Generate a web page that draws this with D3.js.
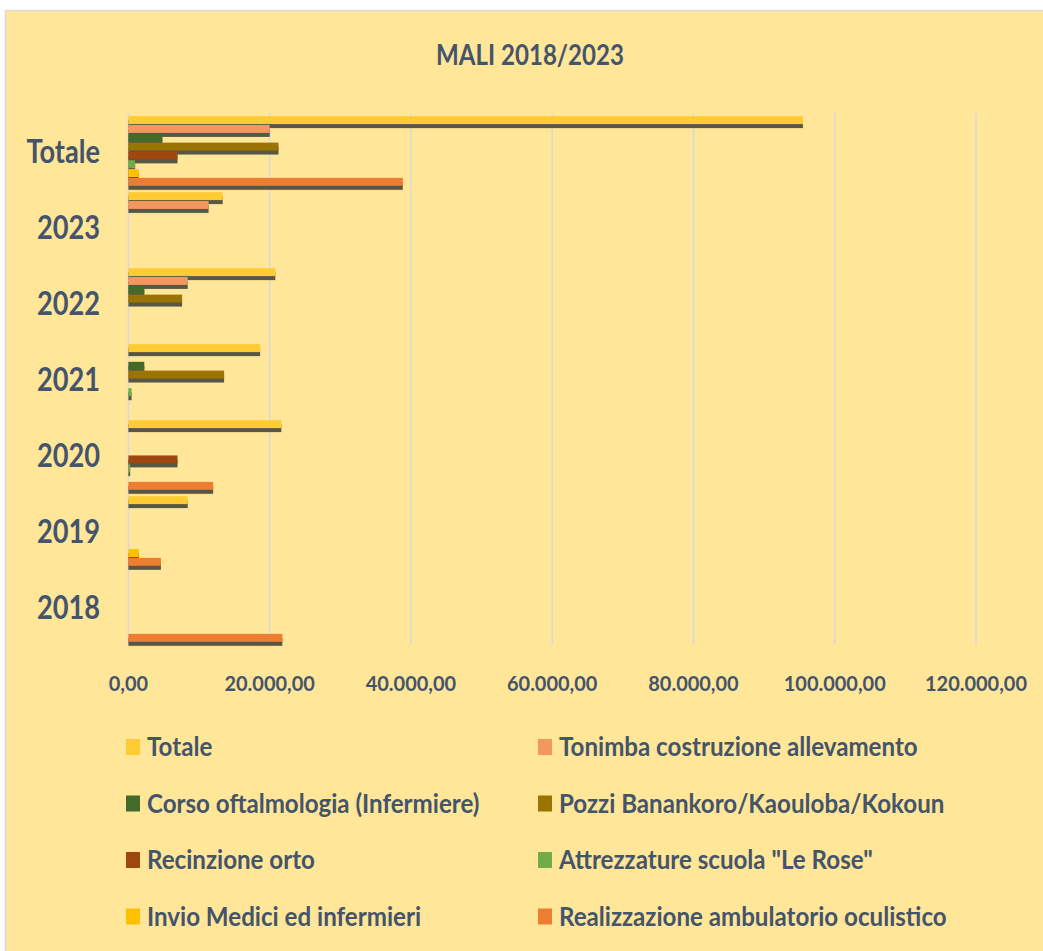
<!DOCTYPE html>
<html>
<head>
<meta charset="utf-8">
<script src="https://cdn.jsdelivr.net/npm/d3@7"></script>
<style>
  body { margin: 0; background: #fff; }
  text { font-family: Lato, "Open Sans", sans-serif; font-weight: bold; fill: #44546A; }
</style>
</head>
<body>
<div id="chart"></div>
<script>
// categories top to bottom
const categories = ['Totale', '2023', '2022', '2021', '2020', '2019', '2018'];

const seriesNames = [
    'Totale',
    'Tonimba costruzione allevamento',
    'Corso oftalmologia (Infermiere)',
    'Pozzi Banankoro/Kaouloba/Kokoun',
    'Recinzione orto',
    'Attrezzature scuola "Le Rose"',
    'Invio Medici ed infermieri',
    'Realizzazione ambulatorio oculistico'
];

// values per series, in the order of categories (null = no bar)
const totale        = [95500, 13350, 20800, 18650, 21650, 8400, null];
const tonimba       = [20000, 11350, 8400, null, null, null, null];
const corso         = [4800, null, 2250, 2250, null, null, null];
const pozzi         = [21250, null, 7600, 13550, null, null, null];
const recinzione    = [6950, null, null, null, 6950, null, null];
const attrezzature  = [950, null, null, 450, 250, null, null];
const invio         = [1450, null, null, null, null, 1450, null];
const realizzazione = [38850, null, null, null, 12000, 4600, 21800];

const seriesValues = [totale, tonimba, corso, pozzi, recinzione, attrezzature, invio, realizzazione];
const seriesColors = ['#FFCB33', '#F2985F', '#43692B', '#997400', '#9E470F', '#70AD47', '#FFC000', '#ED7D31'];

const xTicks = [0, 20000, 40000, 60000, 80000, 100000, 120000];

const W = 1043, H = 951;
const plot = { left: 128.4, right: 976, top: 113, bottom: 645 };

const it = d3.formatLocale({ decimal: ',', thousands: '.', grouping: [3], currency: ['€', ''] });
const fmt = it.format(',.2f');

const svg = d3.select('#chart').append('svg')
    .attr('width', W)
    .attr('height', H);

// chart background
svg.append('rect')
    .attr('x', 5.5).attr('y', 10.5)
    .attr('width', W).attr('height', H)
    .attr('fill', '#FFE699')
    .attr('stroke', '#D9D9D9')
    .attr('stroke-width', 1.5);

// scales
const x = d3.scaleLinear().domain([0, 120000]).range([plot.left, plot.right]);
const y0 = d3.scaleBand().domain(categories).range([plot.top, plot.bottom]);
const y1 = d3.scaleBand().domain(seriesNames).range([0, y0.bandwidth()])
    .paddingInner(0.1).paddingOuter(0.36);

// gridlines
svg.append('g').selectAll('line')
    .data(xTicks)
    .join('line')
    .attr('x1', d => x(d)).attr('x2', d => x(d))
    .attr('y1', plot.top).attr('y2', plot.bottom)
    .attr('stroke', '#D9D9D9')
    .attr('stroke-width', 1.5);

// bars, drawn series by series, each with its shadow
const bars = svg.append('g');
seriesNames.forEach((name, i) => {
    const data = categories.map((c, j) => ({ cat: c, value: seriesValues[i][j] }))
        .filter(d => d.value != null);
    const g = bars.append('g');
    g.selectAll('.shadow')
        .data(data)
        .join('rect')
        .attr('class', 'shadow')
        .attr('x', x(0))
        .attr('y', d => y0(d.cat) + y1(name) + 4)
        .attr('width', d => x(d.value) - x(0))
        .attr('height', y1.bandwidth())
        .attr('fill', '#4A4A3E')
        .attr('opacity', 0.92);
    g.selectAll('.bar')
        .data(data)
        .join('rect')
        .attr('class', 'bar')
        .attr('x', x(0))
        .attr('y', d => y0(d.cat) + y1(name))
        .attr('width', d => x(d.value) - x(0))
        .attr('height', y1.bandwidth())
        .attr('fill', seriesColors[i]);
});

// condense text horizontally (source chart is squeezed)
function condense(sel, k) {
    sel.each(function () {
        const w = this.getComputedTextLength();
        d3.select(this).attr('textLength', w * k).attr('lengthAdjust', 'spacingAndGlyphs');
    });
}

// title
svg.append('text')
    .attr('x', 530).attr('y', 65)
    .attr('text-anchor', 'middle')
    .style('font-size', '29px')
    .text('MALI 2018/2023')
    .call(condense, 0.83);

// category labels
svg.append('g').selectAll('text')
    .data(categories)
    .join('text')
    .attr('x', 100)
    .attr('y', d => y0(d) + y0.bandwidth() / 2 + 12)
    .attr('text-anchor', 'end')
    .style('font-size', '32px')
    .text(d => d)
    .call(condense, 0.85);

// x tick labels
svg.append('g').selectAll('text')
    .data(xTicks)
    .join('text')
    .attr('x', d => x(d))
    .attr('y', 691)
    .attr('text-anchor', 'middle')
    .style('font-size', '21px')
    .text(d => fmt(d))
    .call(condense, 0.95);

// legend, two columns
const legend = svg.append('g');
const legendItems = legend.selectAll('g')
    .data(seriesNames)
    .join('g')
    .attr('transform', (d, i) => `translate(${i % 2 === 0 ? 126 : 538}, ${756 + Math.floor(i / 2) * 56.5})`);

legendItems.append('rect')
    .attr('x', 0).attr('y', -17)
    .attr('width', 14).attr('height', 16)
    .attr('fill', (d, i) => seriesColors[i]);

legendItems.append('text')
    .attr('x', 21).attr('y', 0)
    .style('font-size', '26.5px')
    .text(d => d)
    .call(condense, 0.91);
</script>
</body>
</html>
